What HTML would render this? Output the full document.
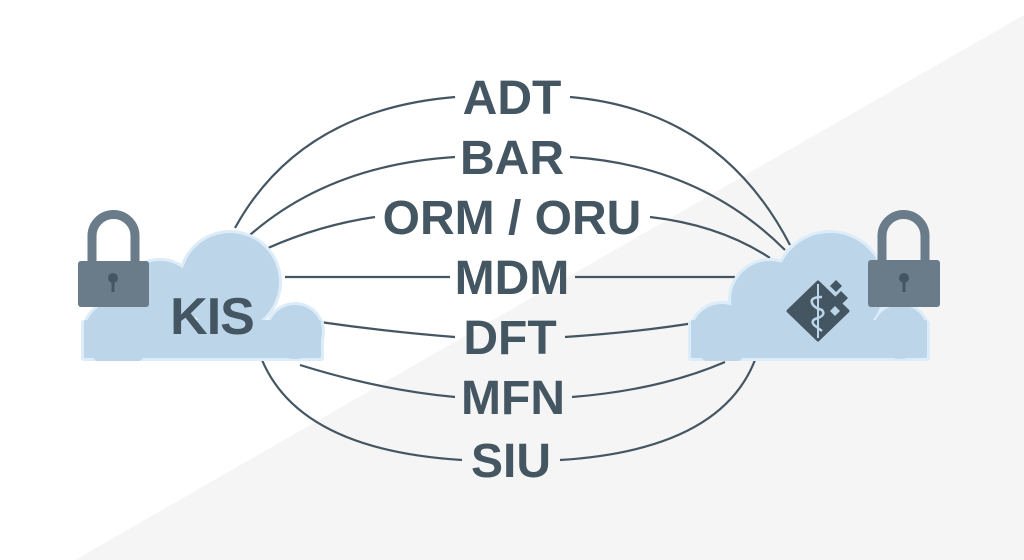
<!DOCTYPE html>
<html><head><meta charset="utf-8"><style>
html,body{margin:0;padding:0;background:#fff}
svg{display:block}
text{font-family:"Liberation Sans",sans-serif;font-weight:bold;fill:#455663}
</style></head><body>
<svg width="1024" height="560" viewBox="0 0 1024 560" xmlns="http://www.w3.org/2000/svg">
<defs><clipPath id="cb"><rect x="0" y="0" width="1024" height="361"/></clipPath></defs>
<rect width="1024" height="560" fill="#fff"/>
<polygon points="75,560 1024,15 1024,560" fill="#f5f5f5"/>
<g fill="none" stroke="#455663" stroke-width="2.2">
<path d="M235,228 Q300,110 455,97"/>
<path d="M570,97 Q720,110 790,245"/>
<path d="M250,235 Q330,165 455,157"/>
<path d="M570,157 Q700,165 785,250"/>
<path d="M268,248 Q320,225 375,217"/>
<path d="M650,217 Q720,225 770,258"/>
<line x1="285" y1="277" x2="450" y2="277"/>
<line x1="575" y1="277" x2="735" y2="277"/>
<path d="M320,322 Q390,332 455,337"/>
<path d="M565,337 Q640,332 700,322"/>
<path d="M300,365 Q380,390 455,397"/>
<path d="M572,397 Q660,390 725,362"/>
<path d="M262,360 Q300,450 462,460"/>
<path d="M560,460 Q720,450 755,360"/>
</g>
<g clip-path="url(#cb)">
<g fill="#dcecf8">
<circle cx="118" cy="335" r="37"/><circle cx="160" cy="300" r="42"/><circle cx="230" cy="282" r="52"/><circle cx="295" cy="332" r="30"/>
<rect x="81" y="320" width="243" height="41" rx="3"/>
<circle cx="722" cy="335" r="34"/><circle cx="770" cy="300" r="42"/><circle cx="830" cy="287" r="57"/><circle cx="900" cy="332" r="30"/>
<rect x="688" y="320" width="242" height="41" rx="3"/>
</g>
<g fill="#bdd5e8">
<circle cx="118" cy="335" r="34"/><circle cx="160" cy="300" r="39"/><circle cx="230" cy="282" r="49"/><circle cx="295" cy="332" r="27"/>
<rect x="84" y="320" width="237" height="38" rx="2"/>
<circle cx="722" cy="335" r="31"/><circle cx="770" cy="300" r="39"/><circle cx="830" cy="287" r="54"/><circle cx="900" cy="332" r="27"/>
<rect x="691" y="320" width="236" height="38" rx="2"/>
</g>
</g>
<g>
<path d="M92,262 V236 A21.5,21.5 0 0 1 135,236 V262" fill="none" stroke="#6a7b8a" stroke-width="9"/>
<rect x="78" y="261" width="71" height="46" rx="3" fill="#6a7b8a"/>
<circle cx="113" cy="278" r="5" fill="#455663"/><rect x="111.5" y="278" width="3" height="14" fill="#455663"/>
<path d="M882,262 V236 A21.5,21.5 0 0 1 925,236 V262" fill="none" stroke="#6a7b8a" stroke-width="9"/>
<rect x="868" y="260" width="72" height="47" rx="3" fill="#6a7b8a"/>
<circle cx="904" cy="278" r="5" fill="#455663"/><rect x="902.5" y="278" width="3" height="14" fill="#455663"/>
</g>
<text x="212" y="334" font-size="52" text-anchor="middle" letter-spacing="-1">KIS</text>
<g>
<polygon points="818,282 848,311 818,340 788,311" fill="#455663" stroke="#455663" stroke-width="3" stroke-linejoin="round"/>
<polygon points="836,280 842,286 836,292 830,286" fill="#455663"/>
<polygon points="841,291 848,298 841,305 834,298" fill="#455663"/>
<polygon points="835,306 840,311 835,316 830,311" fill="#bdd5e8"/>
<line x1="818" y1="284" x2="818" y2="338" stroke="#bdd5e8" stroke-width="2"/>
<path d="M822,297 Q810,297 812,303 Q814,308 822,310 Q826,315 818,318 Q810,320 814,325 Q818,328 822,331" fill="none" stroke="#bdd5e8" stroke-width="2.5"/>
</g>
<g font-size="48" text-anchor="middle">
<text x="512" y="114">ADT</text>
<text x="512" y="174">BAR</text>
<text x="512" y="234">ORM / ORU</text>
<text x="512" y="294">MDM</text>
<text x="510" y="354">DFT</text>
<text x="513" y="414">MFN</text>
<text x="511" y="477">SIU</text>
</g>
</svg>
</body></html>
